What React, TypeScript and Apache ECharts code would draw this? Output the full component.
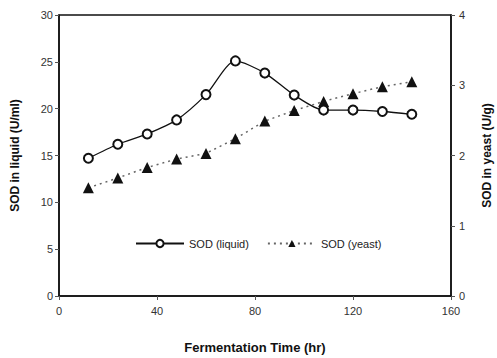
import React, { useEffect, useRef } from "react";
import * as echarts from "echarts";

const timeHr = [12, 24, 36, 48, 60, 72, 84, 96, 108, 120, 132, 144];
const sodLiquid = [14.7, 16.2, 17.3, 18.8, 21.5, 25.1, 23.8, 21.45, 19.85, 19.85, 19.7, 19.4];
const sodYeast = [1.54, 1.68, 1.83, 1.95, 2.03, 2.24, 2.49, 2.64, 2.77, 2.88, 2.98, 3.05];

export default function App() {
  const ref = useRef<HTMLDivElement>(null);
  useEffect(() => {
    document.body.style.margin = "0";
    if (!ref.current) return;
    const chart = echarts.init(ref.current, null, { renderer: "svg" });
    const font = "Liberation Sans, Arial, sans-serif";
    const axisLabel = { color: "#333", fontSize: 11, fontFamily: font, margin: 6 };
    const axisLine = { show: true, lineStyle: { color: "#111", width: 1.5 } };
    const axisTick = { show: true, length: 4, lineStyle: { color: "#555", width: 1 } };
    const nameStyle = { color: "#111", fontSize: 12, fontWeight: "bold" as const, fontFamily: font };
    chart.setOption({
      animation: false,
      backgroundColor: "#fff",
      grid: {
        left: 59,
        right: 46,
        top: 15,
        bottom: 62,
        show: true,
        borderColor: "#111",
        borderWidth: 1.5,
        containLabel: false,
        outerBoundsMode: "none",
      },
      legend: {
        left: 130,
        top: 233,
        itemWidth: 48,
        itemHeight: 9,
        itemGap: 18,
        textStyle: { color: "#222", fontSize: 11, fontFamily: font },
        data: ["SOD (liquid)", "SOD (yeast)"],
      },
      xAxis: {
        type: "value",
        min: 0,
        max: 160,
        interval: 40,
        name: "Fermentation Time (hr)",
        nameLocation: "middle",
        nameGap: 45,
        nameTextStyle: { ...nameStyle, fontFamily: "Liberation Sans Narrow, Arial Narrow, " + font, fontSize: 13 },
        axisLine,
        axisTick,
        axisLabel: { ...axisLabel, margin: 9 },
        splitLine: { show: false },
      },
      yAxis: [
        {
          type: "value",
          min: 0,
          max: 30,
          interval: 5,
          name: "SOD in liquid (U/ml)",
          nameLocation: "middle",
          nameGap: 38,
          nameTextStyle: nameStyle,
          axisLine,
          axisTick,
          axisLabel,
          splitLine: { show: false },
        },
        {
          type: "value",
          min: 0,
          max: 4,
          interval: 1,
          position: "right",
          name: "SOD in yeast (U/g)",
          nameLocation: "middle",
          nameGap: 30,
          nameRotate: 90,
          nameTextStyle: nameStyle,
          axisLine,
          axisTick,
          axisLabel: { ...axisLabel, margin: 8 },
          splitLine: { show: false },
        },
      ],
      series: [
        {
          name: "SOD (liquid)",
          type: "line",
          yAxisIndex: 0,
          data: timeHr.map((t, i) => [t, sodLiquid[i]]),
          smooth: 0.25,
          symbol: "circle",
          symbolSize: 9,
          lineStyle: { color: "#111", width: 1.3 },
          itemStyle: { color: "#fff", borderColor: "#111", borderWidth: 2 },
          z: 3,
        },
        {
          name: "SOD (yeast)",
          type: "line",
          yAxisIndex: 1,
          data: timeHr.map((t, i) => [t, sodYeast[i]]),
          symbol: "triangle",
          symbolSize: 11,
          lineStyle: { color: "#666", width: 1.5, type: [2, 4] },
          itemStyle: { color: "#111", borderColor: "#111", borderWidth: 0 },
          z: 2,
        },
      ],
    });
    return () => chart.dispose();
  }, []);
  return <div ref={ref} style={{ width: 497, height: 358 }} />;
}
